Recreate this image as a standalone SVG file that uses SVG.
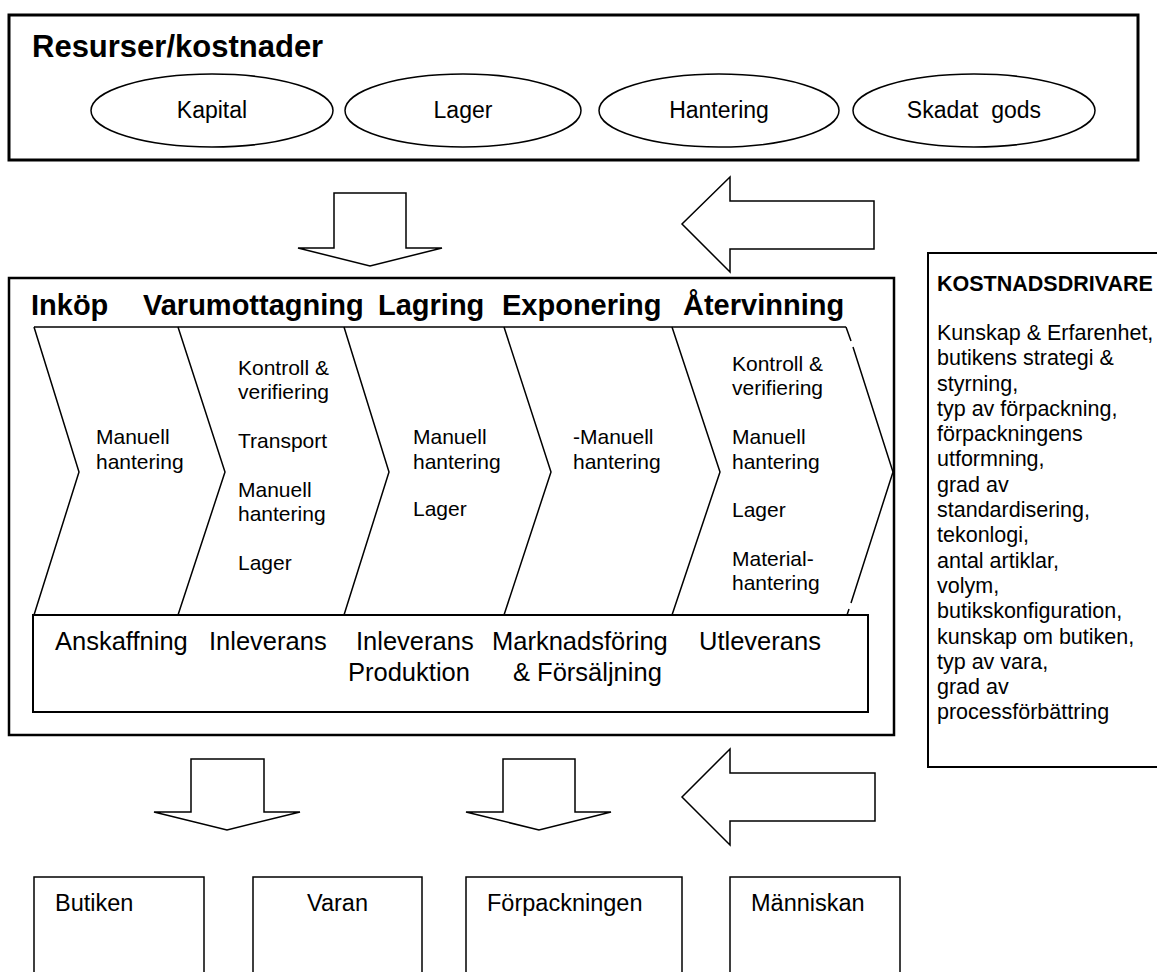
<svg xmlns="http://www.w3.org/2000/svg" width="1157" height="972" viewBox="0 0 1157 972">
  <style>
    .ln { fill: none; stroke: #000; stroke-width: 1.5; }
    .bx { fill: #fff; stroke: #000; stroke-width: 1.5; }
    .arrow { fill: #fff; stroke: #000; stroke-width: 1.5; stroke-linejoin: miter; }
    text { font-family: "Liberation Sans", Arial, sans-serif; fill: #000; }
    .title { font-size: 31px; font-weight: bold; }
    .head { font-size: 29px; font-weight: bold; }
    .oval { font-size: 23px; text-anchor: middle; }
    .step { font-size: 21px; }
    .flow { font-size: 25.5px; }
    .drv { font-size: 21.5px; }
    .drvh { font-size: 21.5px; font-weight: bold; }
    .area { font-size: 23.5px; }
  </style>

  <rect width="1157" height="972" fill="#fff"/>

  <!-- Resources / costs -->
  <g id="resurser">
    <rect class="bx" x="9" y="15" width="1129" height="145" style="stroke-width:3"/>
    <text class="title" x="32" y="57">Resurser/kostnader</text>
  </g>
  <g id="kapital">
    <ellipse class="ln" cx="212" cy="110.5" rx="121" ry="36.5"/>
    <text class="oval" x="212" y="118">Kapital</text>
  </g>
  <g id="lager">
    <ellipse class="ln" cx="463" cy="110.5" rx="118" ry="36.5"/>
    <text class="oval" x="463" y="118">Lager</text>
  </g>
  <g id="hantering">
    <ellipse class="ln" cx="719" cy="110.5" rx="120" ry="36.5"/>
    <text class="oval" x="719" y="118">Hantering</text>
  </g>
  <g id="skadat-gods">
    <ellipse class="ln" cx="974" cy="110.5" rx="121" ry="36.5"/>
    <text class="oval" x="974" y="118" xml:space="preserve">Skadat  gods</text>
  </g>

  <!-- Process chain -->
  <g id="process">
    <rect class="bx" x="9" y="278" width="885" height="457" style="stroke-width:2.5"/>
    <text class="head" x="31" y="315">Inköp</text>
    <text class="head" x="143" y="315">Varumottagning</text>
    <text class="head" x="378" y="315">Lagring</text>
    <text class="head" x="502" y="315">Exponering</text>
    <text class="head" x="683" y="315">Återvinning</text>
    <path class="ln" d="M34,327 H846"/>
  </g>

  <g id="steg-inkop">
    <path class="ln" d="M34,327 L79,472 L34,615"/>
    <text class="step" x="96" y="444">Manuell</text>
    <text class="step" x="96" y="469">hantering</text>
  </g>
  <g id="steg-varumottagning">
    <path class="ln" d="M178,327 L225,472 L178,615"/>
    <text class="step" x="238" y="375">Kontroll &amp;</text>
    <text class="step" x="238" y="399">verifiering</text>
    <text class="step" x="238" y="448">Transport</text>
    <text class="step" x="238" y="497">Manuell</text>
    <text class="step" x="238" y="521">hantering</text>
    <text class="step" x="238" y="570">Lager</text>
  </g>
  <g id="steg-lagring">
    <path class="ln" d="M344,327 L389,472 L344,615"/>
    <text class="step" x="413" y="444">Manuell</text>
    <text class="step" x="413" y="469">hantering</text>
    <text class="step" x="413" y="516">Lager</text>
  </g>
  <g id="steg-exponering">
    <path class="ln" d="M504,327 L551,472 L504,615"/>
    <text class="step" x="573" y="444">-Manuell</text>
    <text class="step" x="573" y="469">hantering</text>
  </g>
  <g id="steg-atervinning">
    <path class="ln" d="M672,327 L720,472 L672,615"/>
    <path class="ln" d="M846,327 L851,341 M853,347 L893,472 L851,603 M849,609 L847,615"/>
    <text class="step" x="732" y="371">Kontroll &amp;</text>
    <text class="step" x="732" y="395">verifiering</text>
    <text class="step" x="732" y="444">Manuell</text>
    <text class="step" x="732" y="469">hantering</text>
    <text class="step" x="732" y="517">Lager</text>
    <text class="step" x="732" y="566">Material-</text>
    <text class="step" x="732" y="590">hantering</text>
  </g>

  <g id="flode">
    <rect class="bx" x="33" y="615" width="835" height="97" style="stroke-width:2"/>
    <text class="flow" x="55" y="650">Anskaffning</text>
    <text class="flow" x="209" y="650">Inleverans</text>
    <text class="flow" x="356" y="650">Inleverans</text>
    <text class="flow" x="492" y="650">Marknadsföring</text>
    <text class="flow" x="699" y="650">Utleverans</text>
    <text class="flow" x="348" y="681">Produktion</text>
    <text class="flow" x="513" y="681">&amp; Försäljning</text>
  </g>

  <!-- Cost drivers -->
  <g id="kostnadsdrivare">
    <rect class="bx" x="928" y="253" width="250" height="514" style="stroke-width:2"/>
    <text class="drvh" x="937" y="291">KOSTNADSDRIVARE</text>
    <g class="drv">
      <text x="937" y="340">Kunskap &amp; Erfarenhet,</text>
      <text x="937" y="365">butikens strategi &amp;</text>
      <text x="937" y="391">styrning,</text>
      <text x="937" y="416">typ av förpackning,</text>
      <text x="937" y="441">förpackningens</text>
      <text x="937" y="466">utformning,</text>
      <text x="937" y="492">grad av</text>
      <text x="937" y="517">standardisering,</text>
      <text x="937" y="542">tekonlogi,</text>
      <text x="937" y="568">antal artiklar,</text>
      <text x="937" y="593">volym,</text>
      <text x="937" y="618">butikskonfiguration,</text>
      <text x="937" y="644">kunskap om butiken,</text>
      <text x="937" y="669">typ av vara,</text>
      <text x="937" y="694">grad av</text>
      <text x="937" y="719">processförbättring</text>
    </g>
  </g>

  <!-- Areas -->
  <g id="butiken">
    <rect class="bx" x="34" y="877" width="170" height="120"/>
    <text class="area" x="55" y="911">Butiken</text>
  </g>
  <g id="varan">
    <rect class="bx" x="253" y="877" width="169" height="120"/>
    <text class="area" x="307" y="911">Varan</text>
  </g>
  <g id="forpackningen">
    <rect class="bx" x="466" y="877" width="216" height="120"/>
    <text class="area" x="487" y="911">Förpackningen</text>
  </g>
  <g id="manniskan">
    <rect class="bx" x="730" y="877" width="170" height="120"/>
    <text class="area" x="751" y="911">Människan</text>
  </g>

  <!-- Block arrows -->
  <g id="connectors">
    <path class="arrow" d="M334,193 H406 V248 H442 L370,266 L298,248 H334 Z"/>
    <path class="arrow" d="M874,201 H730 V177 L682,224 L730,272 V249 H874 Z"/>
    <path class="arrow" d="M191,759 H264 V812 H300 L227,830 L154,812 H191 Z"/>
    <path class="arrow" d="M503,759 H575 V812 H611 L539,830 L466,812 H503 Z"/>
    <path class="arrow" d="M875,773 H730 V749 L682,797 L730,845 V821 H875 Z"/>
  </g>
</svg>
